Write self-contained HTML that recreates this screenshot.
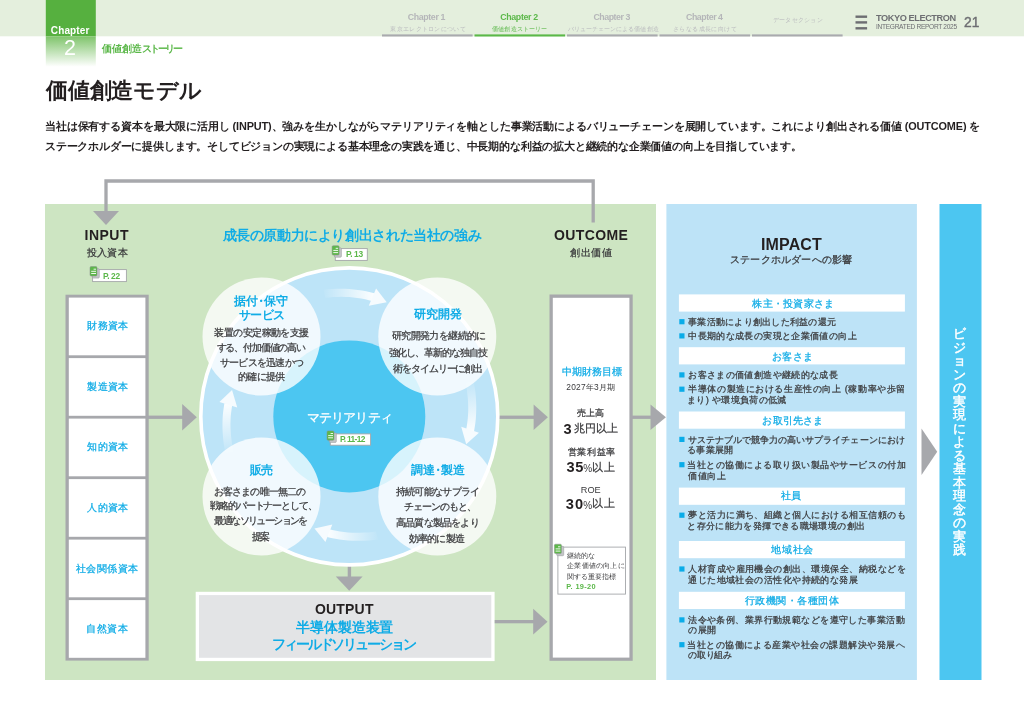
<!DOCTYPE html>
<html lang="ja"><head><meta charset="utf-8">
<style>
*{margin:0;padding:0;box-sizing:border-box}
html,body{width:1024px;height:726px;overflow:hidden;background:#fff}
body{position:relative;font-family:"Liberation Sans",sans-serif;color:#231f20}
svg.bg{position:absolute;left:0;top:0}
.tx{position:absolute;left:0;top:0;width:1024px;height:726px;will-change:transform}
.t{position:absolute;white-space:nowrap;line-height:1}
</style></head><body>
<svg class="bg" width="1024" height="726" viewBox="0 0 1024 726">
<defs>
<linearGradient id="tabg" x1="0" y1="0" x2="0" y2="1">
<stop offset="0" stop-color="#7fc46b"/><stop offset="1" stop-color="#ffffff"/>
</linearGradient>
<linearGradient id="arrg" gradientUnits="userSpaceOnUse" x1="324" y1="0" x2="374" y2="0">
<stop offset="0" stop-color="#fff" stop-opacity="0.05"/><stop offset="1" stop-color="#fff" stop-opacity="0.95"/>
</linearGradient>
</defs>
<!-- header band -->
<rect x="0" y="0" width="1024" height="36.3" fill="#e4efdd"/>
<rect x="45.8" y="0" width="50" height="36.3" fill="#56b03f"/>
<rect x="45.8" y="36.3" width="50" height="30.5" fill="url(#tabg)"/>
<!-- nav underlines -->
<rect x="382" y="34.4" width="90.6" height="2.1" fill="#a9aaae"/>
<rect x="474.5" y="34.4" width="90.6" height="2.1" fill="#5bb848"/>
<rect x="567" y="34.4" width="90.6" height="2.1" fill="#a9aaae"/>
<rect x="659.5" y="34.4" width="90.6" height="2.1" fill="#a9aaae"/>
<rect x="752" y="34.4" width="90.6" height="2.1" fill="#a9aaae"/>
<!-- hamburger -->
<rect x="855.5" y="15.5" width="11.6" height="2.4" fill="#6d6e72"/>
<rect x="855.5" y="21.2" width="11.6" height="2.4" fill="#6d6e72"/>
<rect x="855.5" y="27.1" width="11.6" height="2.4" fill="#6d6e72"/>

<!-- panels -->
<rect x="45" y="204" width="611" height="476" fill="#cde5c2"/>
<rect x="666.4" y="204" width="250.5" height="476" fill="#bde3f7"/>
<rect x="939.5" y="204" width="42" height="476" fill="#4cc6f1"/>

<!-- feedback line -->
<path d="M106,212 V181 H593.2 V222.6" fill="none" stroke="#a7a8ac" stroke-width="3.3"/>
<path d="M93,211 L119,211 L106,225 Z" fill="#a7a8ac"/>

<!-- INPUT box -->
<rect x="65.5" y="294.7" width="83.2" height="365.9" fill="#a7a8ac"/>
<g fill="#fff">
<rect x="68.8" y="297.6" width="76.6" height="57.7"/>
<rect x="68.8" y="358.1" width="76.6" height="57.7"/>
<rect x="68.8" y="418.6" width="76.6" height="57.7"/>
<rect x="68.8" y="479.1" width="76.6" height="57.7"/>
<rect x="68.8" y="539.6" width="76.6" height="57.7"/>
<rect x="68.8" y="600.1" width="76.6" height="57.7"/>
</g>
<!-- OUTCOME box -->
<rect x="549.5" y="294.5" width="83.2" height="366.3" fill="#a7a8ac"/>
<rect x="552.8" y="297.8" width="76.6" height="359.8" fill="#fff"/>
<!-- OUTPUT box -->
<rect x="195.7" y="591.8" width="298.9" height="69.3" fill="#fff"/>
<rect x="199" y="595.1" width="292.3" height="62.7" fill="#e3e4e6"/>
<!-- gray arrows -->
<g fill="#a7a8ac">
<rect x="148" y="415.6" width="36" height="3.3"/>
<path d="M182.2,403.9 L196.8,417.2 L182.2,430.5 Z"/>
<rect x="498" y="415.6" width="37" height="3.3"/>
<path d="M533.6,404.5 L547.9,417.2 L533.6,429.9 Z"/>
<rect x="632" y="415.6" width="20" height="3.3"/>
<path d="M650.5,404.5 L665.9,417.2 L650.5,429.9 Z"/>
<rect x="347.7" y="565" width="3.4" height="12.5"/>
<path d="M335.8,576.5 L362.6,576.5 L349.2,590.8 Z"/>
<rect x="494.7" y="620" width="39.3" height="3.3"/>
<path d="M533.2,608.8 L547.5,621.7 L533.2,634.6 Z"/>
<path d="M921.5,428.4 L937.2,451.7 L921.5,475 Z"/>
</g>
<!-- circle -->
<circle cx="349.3" cy="416.4" r="148.5" fill="#bde4f8" stroke="#fff" stroke-width="3.6"/>
<circle cx="349.3" cy="416.4" r="76" fill="#4cc6f1"/>
<g id="arr">
<path d="M323.5,289.8 L327.8,289.3 L332.1,288.9 L336.4,288.7 L340.7,288.7 L345.0,288.8 L349.3,289.0 L353.6,289.4 L357.8,289.9 L362.0,290.5 L366.1,291.3 L370.3,292.3 L374.3,293.3 L372.7,301.2 L368.9,300.2 L365.1,299.3 L361.2,298.5 L357.2,297.9 L353.3,297.4 L349.3,297.1 L345.3,296.9 L341.3,296.8 L337.3,296.9 L333.2,297.0 L329.2,297.4 L325.2,297.8 Z" fill="url(#arrg)"/>
<path d="M376.1,288.5 L386.7,302.2 L368.8,305.7 Z" fill="#f6fbfe"/>
</g>
<use href="#arr" transform="rotate(85.3 349.3 416.4)"/>
<use href="#arr" transform="translate(0,-3) rotate(178.7 349.3 416.4)"/>
<use href="#arr" transform="rotate(264.5 349.3 416.4)"/>
<g fill="#fff" fill-opacity="0.78">
<circle cx="261.5" cy="336.6" r="59"/>
<circle cx="437.3" cy="336.6" r="59"/>
<circle cx="261.5" cy="496.4" r="59"/>
<circle cx="437.3" cy="496.4" r="59"/>
</g>
<!-- impact bars -->
<g fill="#fff">
<rect x="678.9" y="294.4" width="226" height="17.2"/>
<rect x="678.9" y="347.2" width="226" height="17.2"/>
<rect x="678.9" y="411.5" width="226" height="17.2"/>
<rect x="678.9" y="487.6" width="226" height="17.2"/>
<rect x="678.9" y="541" width="226" height="17.2"/>
<rect x="678.9" y="591.8" width="226" height="17.2"/>
</g>
<g fill="#0aace8">
<rect x="679.3" y="319.1" width="5.2" height="5.2"/>
<rect x="679.3" y="333.3" width="5.2" height="5.2"/>
<rect x="679.3" y="372.3" width="5.2" height="5.2"/>
<rect x="679.3" y="386.6" width="5.2" height="5.2"/>
<rect x="679.3" y="436.8" width="5.2" height="5.2"/>
<rect x="679.3" y="462.1" width="5.2" height="5.2"/>
<rect x="679.3" y="512.6" width="5.2" height="5.2"/>
<rect x="679.3" y="566.4" width="5.2" height="5.2"/>
<rect x="679.3" y="617.3" width="5.2" height="5.2"/>
<rect x="679.3" y="642.1" width="5.2" height="5.2"/>
</g>
<!-- badges -->
<g><rect x="92.6" y="269.6" width="33.8" height="12.0" fill="#fff" stroke="#a4a6a9" stroke-width="0.9"/><rect x="92.3" y="268.7" width="7" height="9.4" rx="1" fill="#c4c6c8" stroke="#9c9ea1" stroke-width="0.6"/><rect x="90.0" y="266.6" width="7" height="9.4" rx="1.1" fill="#5db84a" stroke="#8a8c8f" stroke-width="0.5"/><g stroke="#fff" stroke-width="0.9"><line x1="93.6" y1="269.2" x2="96.0" y2="269.2"/><line x1="91.2" y1="271.3" x2="96.0" y2="271.3"/><line x1="91.2" y1="273.5" x2="96.0" y2="273.5"/></g></g>
<g><rect x="335.3" y="248.6" width="32.0" height="11.8" fill="#fff" stroke="#a4a6a9" stroke-width="0.9"/><rect x="334.4" y="247.8" width="7" height="9.4" rx="1" fill="#c4c6c8" stroke="#9c9ea1" stroke-width="0.6"/><rect x="332.1" y="245.7" width="7" height="9.4" rx="1.1" fill="#5db84a" stroke="#8a8c8f" stroke-width="0.5"/><g stroke="#fff" stroke-width="0.9"><line x1="335.7" y1="248.3" x2="338.1" y2="248.3"/><line x1="333.3" y1="250.4" x2="338.1" y2="250.4"/><line x1="333.3" y1="252.6" x2="338.1" y2="252.6"/></g></g>
<g><rect x="330.3" y="433.9" width="40.3" height="11.3" fill="#fff" stroke="#a4a6a9" stroke-width="0.9"/><rect x="329.3" y="433.0" width="7" height="9.4" rx="1" fill="#c4c6c8" stroke="#9c9ea1" stroke-width="0.6"/><rect x="327.0" y="430.9" width="7" height="9.4" rx="1.1" fill="#5db84a" stroke="#8a8c8f" stroke-width="0.5"/><g stroke="#fff" stroke-width="0.9"><line x1="330.6" y1="433.5" x2="333.0" y2="433.5"/><line x1="328.2" y1="435.6" x2="333.0" y2="435.6"/><line x1="328.2" y1="437.8" x2="333.0" y2="437.8"/></g></g>
<g><rect x="557.9" y="547.1" width="67.6" height="47.0" fill="#fff" stroke="#a4a6a9" stroke-width="0.9"/><rect x="556.7" y="546.3" width="7" height="9.4" rx="1" fill="#c4c6c8" stroke="#9c9ea1" stroke-width="0.6"/><rect x="554.4" y="544.2" width="7" height="9.4" rx="1.1" fill="#5db84a" stroke="#8a8c8f" stroke-width="0.5"/><g stroke="#fff" stroke-width="0.9"><line x1="558.0" y1="546.8" x2="560.4" y2="546.8"/><line x1="555.6" y1="548.9" x2="560.4" y2="548.9"/><line x1="555.6" y1="551.1" x2="560.4" y2="551.1"/></g></g>
</svg>
<div class="tx">
<div class="t" id="chap" style="left:50.80px;top:26.45px;font-size:10.00px;color:#fff;font-weight:bold;letter-spacing:0.133px">Chapter</div>
<div class="t" id="chapn" style="left:64.10px;top:37.84px;font-size:21.50px;color:#fff">2</div>
<div class="t" id="csub" style="left:101.80px;top:43.95px;font-size:9.80px;color:#5cb84a;font-weight:bold">価値創造<span style="letter-spacing:-2.1px">ストーリー</span></div>
<div class="t" id="nav1" style="left:407.70px;top:13.06px;font-size:8.80px;color:#b5b6b9;font-weight:bold;letter-spacing:-0.352px">Chapter 1</div>
<div class="t" id="nav1s" style="left:390.30px;top:26.07px;font-size:6.20px;color:#bbbcbf;letter-spacing:0.310px">東京エレクトロンについて</div>
<div class="t" id="nav2" style="left:500.20px;top:13.06px;font-size:8.80px;color:#5cb84a;font-weight:bold;letter-spacing:-0.325px">Chapter 2</div>
<div class="t" id="nav2s" style="left:492.00px;top:26.07px;font-size:6.20px;color:#5cb84a;letter-spacing:0.175px">価値創造ストーリー</div>
<div class="t" id="nav3" style="left:593.40px;top:13.06px;font-size:8.80px;color:#b5b6b9;font-weight:bold;letter-spacing:-0.452px">Chapter 3</div>
<div class="t" id="nav3s" style="left:567.80px;top:26.07px;font-size:6.20px;color:#bbbcbf;letter-spacing:0.058px">バリューチェーンによる価値創造</div>
<div class="t" id="nav4" style="left:686.00px;top:13.06px;font-size:8.80px;color:#b5b6b9;font-weight:bold;letter-spacing:-0.448px">Chapter 4</div>
<div class="t" id="nav4s" style="left:673.10px;top:26.07px;font-size:6.20px;color:#bbbcbf;letter-spacing:0.400px">さらなる成長に向けて</div>
<div class="t" id="nav5s" style="left:773.00px;top:17.47px;font-size:6.20px;color:#bbbcbf;letter-spacing:0.228px">データセクション</div>
<div class="t" id="tel" style="left:876.10px;top:14.15px;font-size:9.20px;color:#6d6e72;font-weight:bold;letter-spacing:-0.430px">TOKYO ELECTRON</div>
<div class="t" id="ir" style="left:876.10px;top:24.37px;font-size:6.60px;color:#6d6e72;letter-spacing:-0.314px">INTEGRATED REPORT 2025</div>
<div class="t" id="pg" style="left:964.00px;top:16.03px;font-size:13.80px;color:#6d6e72;-webkit-text-stroke-width:0.4px">21</div>
<div class="t" id="title" style="left:46.10px;top:80.19px;font-size:22.00px;color:#231f20;font-weight:bold;letter-spacing:-0.233px">価値創造モデル</div>
<div class="t" id="p1" style="left:45.00px;top:121.10px;font-size:10.90px;color:#231f20;font-weight:bold;letter-spacing:-0.134px">当社は保有する資本を最大限に活用し (INPUT)、強みを生かしながらマテリアリティを軸とした事業活動によるバリューチェーンを展開しています。これにより創出される価値 (OUTCOME) を</div>
<div class="t" id="p2" style="left:45.00px;top:141.10px;font-size:10.90px;color:#231f20;font-weight:bold;letter-spacing:-0.188px">ステークホルダーに提供します。そしてビジョンの実現による基本理念の実践を通じ、中長期的な利益の拡大と継続的な企業価値の向上を目指しています。</div>
<div class="t" id="input" style="left:84.50px;top:228.33px;font-size:14.00px;color:#231f20;font-weight:bold;letter-spacing:0.500px">INPUT</div>
<div class="t" id="inputs" style="left:86.80px;top:248.20px;font-size:10.30px;color:#3a3a3c;letter-spacing:0.267px;-webkit-text-stroke-width:0.25px">投入資本</div>
<div class="t" id="outc" style="left:554.10px;top:228.03px;font-size:14.00px;color:#231f20;font-weight:bold;letter-spacing:0.367px">OUTCOME</div>
<div class="t" id="outcs" style="left:570.40px;top:247.60px;font-size:10.30px;color:#3a3a3c;letter-spacing:0.466px;-webkit-text-stroke-width:0.25px">創出価値</div>
<div class="t" id="strong" style="left:222.50px;top:229.03px;font-size:13.60px;color:#10ace6;font-weight:bold;letter-spacing:-0.378px">成長の原動力により創出された当社の強み</div>
<div class="t" id="cap0" style="left:87.30px;top:321.35px;font-size:10.20px;color:#10ace6;letter-spacing:0.268px;-webkit-text-stroke-width:0.25px">財務資本</div>
<div class="t" id="cap1" style="left:87.30px;top:382.35px;font-size:10.20px;color:#10ace6;letter-spacing:0.268px;-webkit-text-stroke-width:0.25px">製造資本</div>
<div class="t" id="cap2" style="left:87.30px;top:442.35px;font-size:10.20px;color:#10ace6;letter-spacing:0.268px;-webkit-text-stroke-width:0.25px">知的資本</div>
<div class="t" id="cap3" style="left:87.30px;top:502.85px;font-size:10.20px;color:#10ace6;letter-spacing:0.268px;-webkit-text-stroke-width:0.25px">人的資本</div>
<div class="t" id="cap4" style="left:75.95px;top:563.85px;font-size:10.20px;color:#10ace6;letter-spacing:0.440px;-webkit-text-stroke-width:0.25px">社会関係資本</div>
<div class="t" id="cap5" style="left:86.30px;top:623.85px;font-size:10.20px;color:#10ace6;letter-spacing:0.601px;-webkit-text-stroke-width:0.25px">自然資本</div>
<div class="t" id="tl1" style="left:234.00px;top:294.94px;font-size:12.00px;color:#10ace6;font-weight:bold">据付<span style="margin-left:-3px;letter-spacing:-3px">・</span>保守</div>
<div class="t" id="tl2" style="left:239.10px;top:308.74px;font-size:12.00px;color:#10ace6;font-weight:bold;letter-spacing:-0.733px">サービス</div>
<div class="t" id="tl3" style="left:214.30px;top:328.20px;font-size:9.50px;color:#3a3a3c;letter-spacing:-0.555px;-webkit-text-stroke-width:0.25px">装置の安定稼動を支援</div>
<div class="t" id="tl4" style="left:216.60px;top:342.90px;font-size:9.50px;color:#3a3a3c;letter-spacing:-1.177px;-webkit-text-stroke-width:0.25px">する、付加価値の高い</div>
<div class="t" id="tl5" style="left:220.00px;top:357.60px;font-size:9.50px;color:#3a3a3c;letter-spacing:-0.752px;-webkit-text-stroke-width:0.25px">サービスを迅速かつ</div>
<div class="t" id="tl6" style="left:237.90px;top:371.70px;font-size:9.50px;color:#3a3a3c;letter-spacing:-0.650px;-webkit-text-stroke-width:0.25px">的確に提供</div>
<div class="t" id="tr1" style="left:414.10px;top:307.94px;font-size:12.00px;color:#10ace6;font-weight:bold;letter-spacing:-0.067px">研究開発</div>
<div class="t" id="tr2" style="left:391.80px;top:331.40px;font-size:9.50px;color:#3a3a3c;letter-spacing:-0.601px;-webkit-text-stroke-width:0.25px">研究開発力を継続的に</div>
<div class="t" id="tr3" style="left:388.60px;top:348.20px;font-size:9.50px;color:#3a3a3c;letter-spacing:-1.100px;-webkit-text-stroke-width:0.25px">強化し、革新的な独自技</div>
<div class="t" id="tr4" style="left:393.20px;top:364.30px;font-size:9.50px;color:#3a3a3c;letter-spacing:-1.111px;-webkit-text-stroke-width:0.25px">術をタイムリーに創出</div>
<div class="t" id="bl1" style="left:249.50px;top:463.94px;font-size:12.00px;color:#10ace6;font-weight:bold;letter-spacing:-0.400px">販売</div>
<div class="t" id="bl2" style="left:213.60px;top:486.70px;font-size:9.50px;color:#3a3a3c;letter-spacing:-0.801px;-webkit-text-stroke-width:0.25px">お客さまの唯一無二の</div>
<div class="t" id="bl3" style="left:210.00px;top:501.00px;font-size:9.50px;color:#3a3a3c;letter-spacing:-1.091px;-webkit-text-stroke-width:0.25px">戦略的パートナーとして、</div>
<div class="t" id="bl4" style="left:214.40px;top:516.40px;font-size:9.50px;color:#3a3a3c;letter-spacing:-1.600px;-webkit-text-stroke-width:0.25px">最適なソリューションを</div>
<div class="t" id="bl5" style="left:251.60px;top:531.50px;font-size:9.50px;color:#3a3a3c;letter-spacing:-1.600px;-webkit-text-stroke-width:0.25px">提案</div>
<div class="t" id="br1" style="left:411.00px;top:463.94px;font-size:12.00px;color:#10ace6;font-weight:bold">調達<span style="margin-left:-3px;letter-spacing:-3px">・</span>製造</div>
<div class="t" id="br2" style="left:395.80px;top:486.70px;font-size:9.50px;color:#3a3a3c;letter-spacing:-0.698px;-webkit-text-stroke-width:0.25px">持続可能なサプライ</div>
<div class="t" id="br3" style="left:404.40px;top:501.60px;font-size:9.50px;color:#3a3a3c;letter-spacing:-1.115px;-webkit-text-stroke-width:0.25px">チェーンのもと、</div>
<div class="t" id="br4" style="left:396.00px;top:517.90px;font-size:9.50px;color:#3a3a3c;letter-spacing:-0.802px;-webkit-text-stroke-width:0.25px">高品質な製品をより</div>
<div class="t" id="br5" style="left:408.50px;top:533.90px;font-size:9.50px;color:#3a3a3c;letter-spacing:-0.680px;-webkit-text-stroke-width:0.25px">効率的に製造</div>
<div class="t" id="mat" style="left:307.00px;top:410.94px;font-size:13.00px;color:#fff;letter-spacing:-0.899px;-webkit-text-stroke-width:0.25px">マテリアリティ</div>
<div class="t" id="o1" style="left:561.80px;top:367.35px;font-size:10.00px;color:#10ace6;letter-spacing:-0.040px;-webkit-text-stroke-width:0.25px">中期財務目標</div>
<div class="t" id="o2" style="left:566.30px;top:382.76px;font-size:8.40px;color:#3a3a3c;letter-spacing:0.230px">2027年3月期</div>
<div class="t" id="o3" style="left:577.00px;top:409.45px;font-size:9.20px;color:#3a3a3c;letter-spacing:0.200px;-webkit-text-stroke-width:0.25px">売上高</div>
<div class="t" id="o5" style="left:567.80px;top:447.15px;font-size:9.40px;color:#3a3a3c;letter-spacing:0.600px;-webkit-text-stroke-width:0.25px">営業利益率</div>
<div class="t" id="o7" style="left:580.80px;top:486.05px;font-size:9.20px;color:#3a3a3c">ROE</div>
<div class="t" id="k1" style="left:567.30px;top:551.87px;font-size:7.00px;color:#3a3a3c">継続的な</div>
<div class="t" id="k2" style="left:567.30px;top:562.46px;font-size:7.00px;color:#3a3a3c;letter-spacing:0.199px">企業価値の向上に</div>
<div class="t" id="k3" style="left:567.30px;top:573.26px;font-size:7.00px;color:#3a3a3c">関する重要指標</div>
<div class="t" id="k4" style="left:566.30px;top:582.66px;font-size:7.40px;color:#5cb84a;font-weight:bold;letter-spacing:0.344px">P. 19-20</div>
<div class="t" id="outp" style="left:314.90px;top:602.23px;font-size:14.00px;color:#231f20;font-weight:bold;letter-spacing:0.200px">OUTPUT</div>
<div class="t" id="outp2" style="left:296.20px;top:621.03px;font-size:13.80px;color:#10ace6;font-weight:bold;letter-spacing:-0.133px">半導体製造装置</div>
<div class="t" id="outp3" style="left:271.70px;top:638.13px;font-size:13.80px;color:#10ace6;font-weight:bold;letter-spacing:-2.038px">フィールドソリューション</div>
<div class="t" id="b22" style="left:103.00px;top:271.76px;font-size:8.40px;color:#5cb84a;font-weight:bold;letter-spacing:-0.350px">P. 22</div>
<div class="t" id="b13" style="left:346.00px;top:249.86px;font-size:8.40px;color:#5cb84a;font-weight:bold;letter-spacing:-0.350px">P. 13</div>
<div class="t" id="b1112" style="left:339.90px;top:435.26px;font-size:8.40px;color:#5cb84a;font-weight:bold;letter-spacing:-0.658px">P. 11-12</div>
<div class="t" id="imp" style="left:760.90px;top:237.22px;font-size:16.00px;color:#231f20;font-weight:bold;letter-spacing:0.160px">IMPACT</div>
<div class="t" id="imps" style="left:730.10px;top:255.25px;font-size:10.40px;color:#3a3a3c;letter-spacing:0.181px;-webkit-text-stroke-width:0.25px">ステークホルダーへの影響</div>
<div class="t" id="bar0" style="left:752.30px;top:299.25px;font-size:10.00px;color:#10ace6;letter-spacing:0.258px;-webkit-text-stroke-width:0.25px">株主・投資家さま</div>
<div class="t" id="bar1" style="left:771.50px;top:351.55px;font-size:10.00px;color:#10ace6;letter-spacing:0.533px;-webkit-text-stroke-width:0.25px">お客さま</div>
<div class="t" id="bar2" style="left:762.30px;top:415.75px;font-size:10.00px;color:#10ace6;letter-spacing:0.240px;-webkit-text-stroke-width:0.25px">お取引先さま</div>
<div class="t" id="bar3" style="left:781.00px;top:491.35px;font-size:10.00px;color:#10ace6;letter-spacing:-0.200px;-webkit-text-stroke-width:0.25px">社員</div>
<div class="t" id="bar4" style="left:771.30px;top:545.25px;font-size:10.00px;color:#10ace6;letter-spacing:0.734px;-webkit-text-stroke-width:0.25px">地域社会</div>
<div class="t" id="bar5" style="left:745.00px;top:595.65px;font-size:10.00px;color:#10ace6;letter-spacing:0.450px;-webkit-text-stroke-width:0.25px">行政機関・各種団体</div>
<div class="t" id="il0" style="left:688.20px;top:316.75px;font-size:9.40px;color:#3a3a3c;letter-spacing:0.254px;-webkit-text-stroke-width:0.25px">事業活動により創出した利益の還元</div>
<div class="t" id="il1" style="left:688.20px;top:330.75px;font-size:9.40px;color:#3a3a3c;letter-spacing:0.377px;-webkit-text-stroke-width:0.25px">中長期的な成長の実現と企業価値の向上</div>
<div class="t" id="il2" style="left:688.20px;top:369.75px;font-size:9.40px;color:#3a3a3c;letter-spacing:0.372px;-webkit-text-stroke-width:0.25px">お客さまの価値創造や継続的な成長</div>
<div class="t" id="il3" style="left:688.20px;top:383.75px;font-size:9.40px;color:#3a3a3c;letter-spacing:0.582px;-webkit-text-stroke-width:0.25px">半導体の製造における生産性の向上 (稼動率や歩留</div>
<div class="t" id="il4" style="left:687.20px;top:394.75px;font-size:9.40px;color:#3a3a3c;letter-spacing:0.309px;-webkit-text-stroke-width:0.25px">まり) や環境負荷の低減</div>
<div class="t" id="il5" style="left:688.20px;top:434.75px;font-size:9.40px;color:#3a3a3c;letter-spacing:0.017px;-webkit-text-stroke-width:0.25px">サステナブルで競争力の高いサプライチェーンにおけ</div>
<div class="t" id="il6" style="left:687.20px;top:445.25px;font-size:9.40px;color:#3a3a3c;letter-spacing:0.250px;-webkit-text-stroke-width:0.25px">る事業展開</div>
<div class="t" id="il7" style="left:687.20px;top:459.75px;font-size:9.40px;color:#3a3a3c;letter-spacing:0.517px;-webkit-text-stroke-width:0.25px">当社との協働による取り扱い製品やサービスの付加</div>
<div class="t" id="il8" style="left:688.20px;top:470.75px;font-size:9.40px;color:#3a3a3c;letter-spacing:0.533px;-webkit-text-stroke-width:0.25px">価値向上</div>
<div class="t" id="il9" style="left:688.20px;top:509.75px;font-size:9.40px;color:#3a3a3c;letter-spacing:0.472px;-webkit-text-stroke-width:0.25px">夢と活力に満ち、組織と個人における相互信頼のも</div>
<div class="t" id="il10" style="left:687.20px;top:520.75px;font-size:9.40px;color:#3a3a3c;letter-spacing:0.378px;-webkit-text-stroke-width:0.25px">と存分に能力を発揮できる職場環境の創出</div>
<div class="t" id="il11" style="left:688.20px;top:564.25px;font-size:9.40px;color:#3a3a3c;letter-spacing:0.472px;-webkit-text-stroke-width:0.25px">人材育成や雇用機会の創出、環境保全、納税などを</div>
<div class="t" id="il12" style="left:688.20px;top:575.25px;font-size:9.40px;color:#3a3a3c;letter-spacing:0.448px;-webkit-text-stroke-width:0.25px">通じた地域社会の活性化や持続的な発展</div>
<div class="t" id="il13" style="left:688.20px;top:614.75px;font-size:9.40px;color:#3a3a3c;letter-spacing:0.427px;-webkit-text-stroke-width:0.25px">法令や条例、業界行動規範などを遵守した事業活動</div>
<div class="t" id="il14" style="left:688.20px;top:624.75px;font-size:9.40px;color:#3a3a3c;letter-spacing:0.500px;-webkit-text-stroke-width:0.25px">の展開</div>
<div class="t" id="il15" style="left:687.20px;top:639.75px;font-size:9.40px;color:#3a3a3c;letter-spacing:0.472px;-webkit-text-stroke-width:0.25px">当社との協働による産業や社会の課題解決や発展へ</div>
<div class="t" id="il16" style="left:688.20px;top:650.25px;font-size:9.40px;color:#3a3a3c;letter-spacing:-0.250px;-webkit-text-stroke-width:0.25px">の取り組み</div>
<div class="t" id="n3" style="left:563.60px;top:421.63px;font-size:14.60px;color:#231f20;font-weight:bold">3</div>
<div class="t" id="n3u" style="left:573.50px;top:423.34px;font-size:11.20px;color:#3a3a3c;letter-spacing:0.267px;-webkit-text-stroke-width:0.25px">兆円以上</div>
<div class="t" id="n35" style="left:566.60px;top:459.93px;font-size:14.60px;color:#231f20;font-weight:bold;letter-spacing:0.600px">35</div>
<div class="t" id="n35p" style="left:583.30px;top:463.95px;font-size:10.00px;color:#3a3a3c">%</div>
<div class="t" id="n35u" style="left:592.20px;top:461.54px;font-size:11.20px;color:#3a3a3c;letter-spacing:0.600px;-webkit-text-stroke-width:0.25px">以上</div>
<div class="t" id="n30" style="left:565.80px;top:497.33px;font-size:14.60px;color:#231f20;font-weight:bold;letter-spacing:1.200px">30</div>
<div class="t" id="n30p" style="left:583.30px;top:501.35px;font-size:10.00px;color:#3a3a3c">%</div>
<div class="t" id="n30u" style="left:592.20px;top:498.24px;font-size:11.20px;color:#3a3a3c;letter-spacing:1.000px;-webkit-text-stroke-width:0.25px">以上</div>
<div class="t" id="vis" style="left:952.50px;top:327.43px;font-size:13.20px;color:#fff;-webkit-text-stroke-width:0.25px;line-height:13.5px;text-align:center;width:14px;-webkit-text-stroke-width:0.45px">ビ<br>ジ<br>ョ<br>ン<br>の<br>実<br>現<br>に<br>よ<br>る<br>基<br>本<br>理<br>念<br>の<br>実<br>践</div>
</div>
</body></html>
